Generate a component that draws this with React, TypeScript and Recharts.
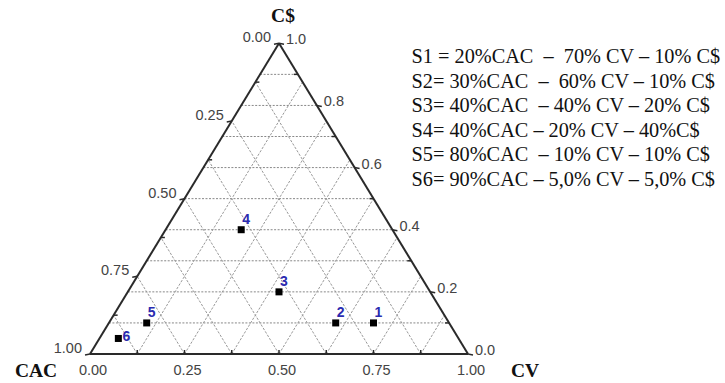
import React from 'react'
import { ScatterChart, Scatter, XAxis, YAxis, ReferenceLine, Customized } from 'recharts'

// sample compositions (fractions of CAC / CV / C$)
const sampleIds = ['1', '2', '3', '4', '5', '6']
const cacShare = [0.2, 0.3, 0.4, 0.4, 0.8, 0.9]
const cvShare = [0.7, 0.6, 0.4, 0.2, 0.1, 0.05]
const csShare = [0.1, 0.1, 0.2, 0.4, 0.1, 0.05]

const legendLines = [
  'S1 = 20%CAC  –  70% CV – 10% C$',
  'S2= 30%CAC  –  60% CV – 10% C$',
  'S3= 40%CAC  – 40% CV – 20% C$',
  'S4= 40%CAC – 20% CV – 40%C$',
  'S5= 80%CAC  – 10% CV – 10% C$',
  'S6= 90%CAC – 5,0% CV – 5,0% C$',
]

// ticks along the three edges
const cvTicks = [0.125, 0.25, 0.375, 0.5, 0.625, 0.75, 0.875]
const cvLabelValues = [0, 0.25, 0.5, 0.75, 1]
const cvLabels = ['0.00', '0.25', '0.50', '0.75', '1.00']
const cacTicks = [0, 0.125, 0.25, 0.375, 0.5, 0.625, 0.75, 0.875, 1]
const cacLabels = ['0.00', '', '0.25', '', '0.50', '', '0.75', '', '1.00']
const csTicks = [0, 0.1, 0.2, 0.3, 0.4, 0.5, 0.6, 0.7, 0.8, 0.9, 1]
const csLabels = ['0.0', '', '0.2', '', '0.4', '', '0.6', '', '0.8', '', '1.0']

// dashed grid
const diagGrid = [0.125, 0.25, 0.375, 0.5, 0.625, 0.75, 0.875]
const levelGrid = [0.1, 0.2, 0.3, 0.4, 0.5, 0.6, 0.7, 0.8, 0.9]

// ternary -> cartesian (CV along the base, C$ up to the apex)
const toXY = (cv: number, cs: number) => ({ x: cv + cs / 2, y: cs })

const samples = sampleIds.map((id, i) => ({ id, cac: cacShare[i], ...toXY(cvShare[i], csShare[i]) }))

const bottomTicks = cvTicks.map((v) => ({ ...toXY(v, 0), label: '' }))
const bottomLabels = cvLabelValues.map((v, i) => ({ ...toXY(v, 0), label: cvLabels[i] }))
const leftTicks = cacTicks.map((a, i) => ({ ...toXY(0, 1 - a), label: cacLabels[i] }))
const rightTicks = csTicks.map((c, i) => ({ ...toXY(1 - c, c), label: csLabels[i] }))

const TICK_FONT = { fontFamily: 'Liberation Sans, Arial, sans-serif', fontSize: 14.5, fill: '#444' }
const EDGE = '#2a2a2a'

const BottomTick = (p: any) => {
  const { cx, cy, payload } = p
  if (payload.label) {
    return (
      <text x={cx + 3} y={cy + 16} textAnchor="middle" dominantBaseline="central" {...TICK_FONT}>
        {payload.label}
      </text>
    )
  }
  return <line x1={cx} y1={cy} x2={cx} y2={cy - 4} stroke={EDGE} strokeWidth={1.5} />
}

const LeftTick = (p: any) => {
  const { cx, cy, payload } = p
  if (payload.label) {
    return (
      <g>
        <line x1={cx} y1={cy} x2={cx - 5} y2={cy + 1} stroke={EDGE} strokeWidth={1.5} />
        <text x={cx - 8} y={cy - 6} textAnchor="end" dominantBaseline="central" {...TICK_FONT}>
          {payload.label}
        </text>
      </g>
    )
  }
  return <line x1={cx} y1={cy} x2={cx + 4} y2={cy} stroke={EDGE} strokeWidth={1.5} />
}

const RightTick = (p: any) => {
  const { cx, cy, payload } = p
  if (payload.label) {
    return (
      <g>
        <line x1={cx} y1={cy} x2={cx + 5} y2={cy + 1} stroke={EDGE} strokeWidth={1.5} />
        <text x={cx + 7} y={cy - 4} textAnchor="start" dominantBaseline="central" {...TICK_FONT}>
          {payload.label}
        </text>
      </g>
    )
  }
  return <line x1={cx} y1={cy} x2={cx - 4} y2={cy} stroke={EDGE} strokeWidth={1.5} />
}

const SamplePoint = (p: any) => {
  const { cx, cy, payload } = p
  const side = payload.id === '6'
  return (
    <g>
      <rect x={cx - 3.5} y={cy - 3.5} width={7} height={7} fill="#000" />
      <text
        x={side ? cx + 8 : cx + 5}
        y={side ? cy - 2 : cy - 11}
        textAnchor="middle"
        dominantBaseline="central"
        fontFamily="Liberation Sans, Arial, sans-serif"
        fontSize={14}
        fontWeight="bold"
        fill="#2b2bb0"
      >
        {payload.id}
      </text>
    </g>
  )
}

const Titles = () => {
  const title = { fontFamily: 'Liberation Serif, Times New Roman, serif', fontSize: 19.5, fontWeight: 'bold', fill: '#111' }
  return (
    <g>
      <text x={283} y={15} textAnchor="middle" dominantBaseline="central" {...title}>C$</text>
      <text x={36} y={370} textAnchor="middle" dominantBaseline="central" {...title}>CAC</text>
      <text x={525} y={370} textAnchor="middle" dominantBaseline="central" {...title}>CV</text>
      {legendLines.map((line, i) => (
        <text
          key={i}
          x={411.5}
          y={63.3 + i * 24.5}
          fontFamily="Liberation Serif, Times New Roman, serif"
          fontSize={20.3}
          fill="#111"
          style={{ whiteSpace: 'pre' }}
        >
          {line}
        </text>
      ))}
    </g>
  )
}

export default function App() {
  return (
    <div style={{ position: 'fixed', left: 0, top: 0, width: 725, height: 383, background: '#fff' }}>
      <ScatterChart width={725} height={383} margin={{ top: 43.3, right: 257, bottom: 29, left: 90 }}>
        <XAxis type="number" dataKey="x" domain={[0, 1]} hide />
        <YAxis type="number" dataKey="y" domain={[0, 1]} hide />

        {levelGrid.map((c) => (
          <ReferenceLine
            key={`h${c}`}
            segment={[toXY(0, c), toXY(1 - c, c)]}
            stroke="#888"
            strokeDasharray="2 1.5"
          />
        ))}
        {diagGrid.map((v) => (
          <ReferenceLine
            key={`cv${v}`}
            segment={[toXY(v, 0), toXY(v, 1 - v)]}
            stroke="#999"
            strokeDasharray="2.5 1.5"
          />
        ))}
        {diagGrid.map((a) => (
          <ReferenceLine
            key={`cac${a}`}
            segment={[toXY(1 - a, 0), toXY(0, 1 - a)]}
            stroke="#999"
            strokeDasharray="2.5 1.5"
          />
        ))}

        <ReferenceLine segment={[toXY(0, 0), toXY(1, 0)]} stroke={EDGE} strokeWidth={2} />
        <ReferenceLine segment={[toXY(0, 0), toXY(0, 1)]} stroke={EDGE} strokeWidth={2} />
        <ReferenceLine segment={[toXY(1, 0), toXY(0, 1)]} stroke={EDGE} strokeWidth={2} />

        <Scatter data={bottomTicks} shape={BottomTick} isAnimationActive={false} />
        <Scatter data={bottomLabels} shape={BottomTick} isAnimationActive={false} />
        <Scatter data={leftTicks} shape={LeftTick} isAnimationActive={false} />
        <Scatter data={rightTicks} shape={RightTick} isAnimationActive={false} />
        <Scatter data={samples} shape={SamplePoint} isAnimationActive={false} />

        <Customized component={<Titles />} />
      </ScatterChart>
    </div>
  )
}
